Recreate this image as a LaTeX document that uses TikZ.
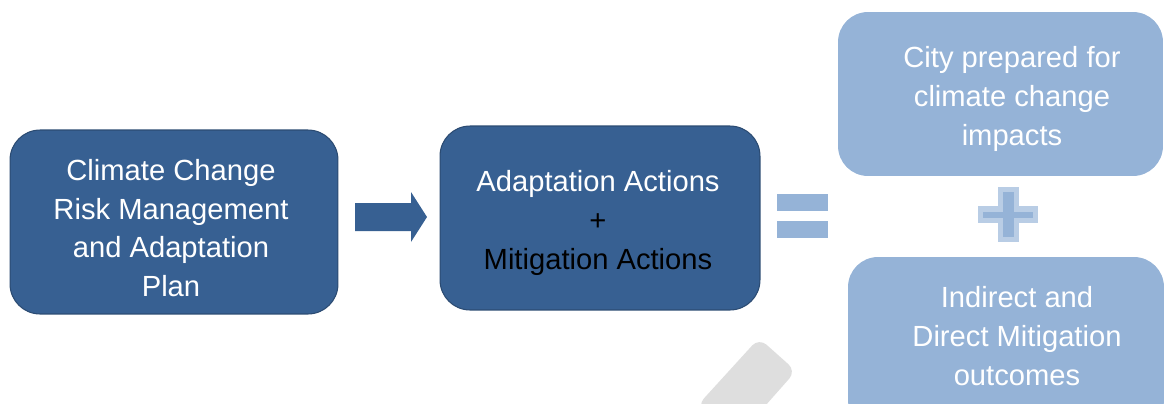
\documentclass[tikz,border=0pt]{standalone}
\usepackage{fontspec}
\setmainfont{Liberation Sans}
\definecolor{darkblue}{HTML}{376092}
\definecolor{darkrim}{HTML}{2B4B72}
\definecolor{paleblue}{HTML}{95B3D7}
\definecolor{palerim}{HTML}{B9CDE5}
\definecolor{markgray}{HTML}{DEDEDE}
\tikzset{
	darkbox/.style={draw=darkrim, line width=0.6pt, fill=darkblue, rounded corners=0.6cm},
	palebox/.style={fill=paleblue, rounded corners=0.6cm},
	boxtext/.style={align=center, text=white, font=\fontsize{16.6}{22.1}\selectfont},
}

\begin{document}
\begin{tikzpicture}[x=0.02cm, y=-0.02cm]
			%%%%% START %%%%%
			
			\clip (0, 0) rectangle (1164, 403);
			
			\fill[markgray, rounded corners=0.2cm] (759, 338) -- (796, 371) -- (735, 440) -- (697, 406) -- cycle;
			
			\node[darkbox, minimum width=6.56cm, minimum height=3.68cm] (plan) at (174, 222) {};
			\node[boxtext] (plantext) at (171, 228) {Climate Change\\Risk Management\\and Adaptation\\Plan};
			
			\fill[darkblue] (355, 203) -- (411, 203) -- (411, 192) -- (427, 217) -- (411, 242) -- (411, 231) -- (355, 231) -- cycle;
			
			\node[darkbox, minimum width=6.4cm, minimum height=3.68cm] (actions) at (600, 218) {};
			\node[boxtext] (actionstext) at (598, 223) {Adaptation Actions\\\textcolor{black}{+}\\\textcolor{black}{Mitigation Actions}};
			
			\fill[paleblue] (777, 194) rectangle (828, 211);
			\fill[paleblue] (777, 221) rectangle (828, 238);
			
			\node[palebox, minimum width=6.5cm, minimum height=3.28cm] (prepared) at (1000.5, 94) {};
			\node[boxtext] (preparedtext) at (1012, 99) {City prepared for\\climate change\\impacts};
			
			\draw[fill=paleblue, draw=palerim, line width=0.11cm] (1000.5, 189.5) -- (1016.5, 189.5) -- (1016.5, 209) -- (1035.5, 209) -- (1035.5, 220.5) -- (1016.5, 220.5) -- (1016.5, 239.5) -- (1000.5, 239.5) -- (1000.5, 220.5) -- (980.5, 220.5) -- (980.5, 209) -- (1000.5, 209) -- cycle;
			
			\node[palebox, minimum width=6.32cm, minimum height=3.46cm] (outcomes) at (1006, 343.5) {};
			\node[boxtext] (outcomestext) at (1017, 336) {Indirect and\\Direct Mitigation\\outcomes};
			
			%%%%% END %%%%%
\end{tikzpicture}
\end{document}
